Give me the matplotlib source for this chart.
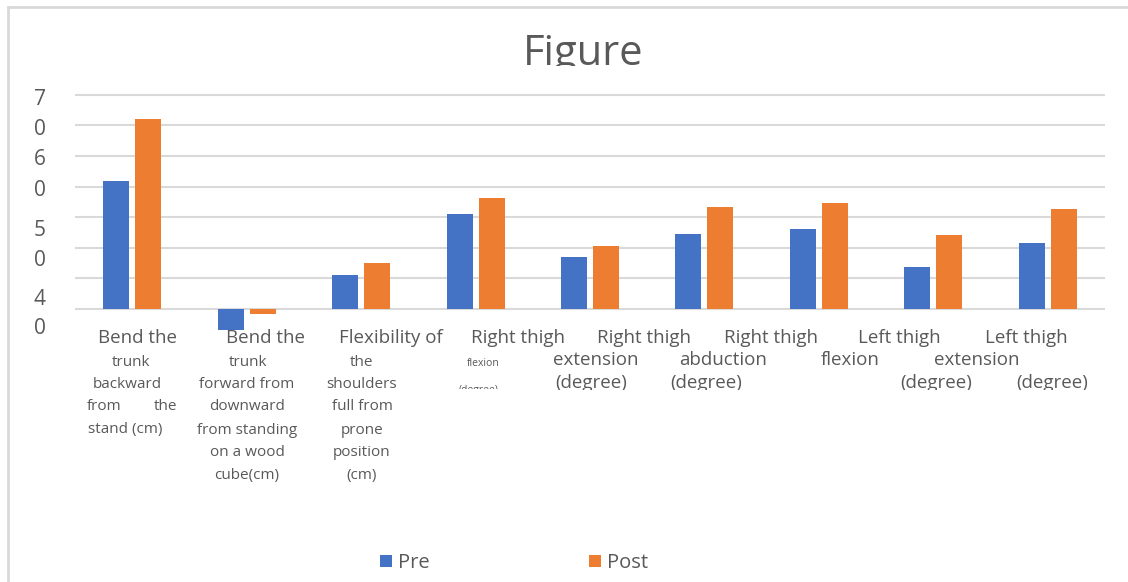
import matplotlib
matplotlib.use("Agg")
import matplotlib.pyplot as plt
import numpy as np
from matplotlib.lines import Line2D
from matplotlib.transforms import Bbox, TransformedBbox

categories = [
    "Bend the trunk backward from the stand (cm)",
    "Bend the trunk forward from downward from standing on a wood cube(cm)",
    "Flexibility of the shoulders full from prone position (cm)",
    "Right thigh flexion (degree)",
    "Right thigh extension (degree)",
    "Right thigh abduction (degree)",
    "Left thigh flexion",
    "Left thigh extension (degree)",
    "Left thigh (degree)",
]
pre = [41.8, -6.8, 11.1, 31.0, 17.0, 24.5, 26.1, 13.7, 21.6]
post = [62.1, -1.5, 15.0, 36.3, 20.6, 33.3, 34.6, 24.2, 32.7]

ytick_values = [69.3, 59.5, 49.7, 39.5, 26.5, 16.7, 3.9, -5.6]
ytick_labels = ["7", "0", "6", "0", "5", "0", "4", "0"]
grid_values = [0, 10, 20, 30, 40, 50, 60, 70]

BLUE = "#4472c4"
ORANGE = "#ed7d31"
TXT = "#595959"
GRID = "#d9d9d9"

plt.rcParams["font.family"] = ["Open Sans", "DejaVu Sans"]

W, H = 1128, 582
fig = plt.figure(figsize=(W / 100, H / 100), dpi=100)


def fy(py):
    return 1 - py / H


def fx(px):
    return px / W


ax = fig.add_axes([fx(75), fy(332), fx(1105) - fx(75), fy(90) - fy(332)])
x = np.arange(len(categories))
ax.bar(x - 0.14, pre, width=0.227, color=BLUE, label="Pre")
ax.bar(x + 0.14, post, width=0.227, color=ORANGE, label="Post")
for g in grid_values:
    ax.axhline(g, color=GRID, lw=1.5, zorder=0)
ax.set_xlim(-0.5, len(categories) - 0.5)
ax.set_ylim(-7.5, 71.6)
ax.set_xticks([])
ax.set_yticks(ytick_values)
ax.set_yticklabels(ytick_labels, fontsize=15, color=TXT)
ax.tick_params(axis="y", length=0, pad=21)
for s in ax.spines.values():
    s.set_visible(False)

# category labels as they wrap under the axis: (text, x px, y px, size, clip px)
label_pieces = [
    ("Bend the", 138, 338, 13.5, 347),
    ("Bend the", 265, 338, 13.5, 347),
    ("Flexibility of", 391, 338, 13.5, 347),
    ("Right thigh", 518, 338, 13.5, 347),
    ("Right thigh", 644, 338, 13.5, 347),
    ("Right thigh", 771, 338, 13.5, 347),
    ("Left thigh", 899, 338, 13.5, 347),
    ("Left thigh", 1026, 338, 13.5, 347),
    ("trunk", 131, 362, 11, 600),
    ("backward", 127, 385, 11, 600),
    ("from", 104, 407, 11, 600),
    ("the", 166, 407, 11, 600),
    ("stand (cm)", 125, 430, 11, 600),
    ("trunk", 248, 362, 11, 600),
    ("forward from", 247, 385, 11, 600),
    ("downward", 247, 407, 11, 600),
    ("from standing", 247, 430, 11, 600),
    ("on a wood", 247, 453, 11, 600),
    ("cube(cm)", 247, 476, 11, 600),
    ("the", 362, 362, 11, 600),
    ("shoulders", 362, 385, 11, 600),
    ("full from", 362, 407, 11, 600),
    ("prone", 362, 430, 11, 600),
    ("position", 362, 453, 11, 600),
    ("(cm)", 362, 476, 11, 600),
    ("flexion", 483, 364, 7.5, 600),
    ("(degree)", 479, 391, 7.5, 389),
    ("extension", 596, 360, 13.5, 600),
    ("(degree)", 591, 383, 13.5, 390),
    ("abduction", 723, 360, 13.5, 600),
    ("(degree)", 706, 383, 13.5, 390),
    ("flexion", 850, 360, 13.5, 600),
    ("extension", 977, 360, 13.5, 600),
    ("(degree)", 936, 383, 13.5, 390),
    ("(degree)", 1052, 383, 13.5, 390),
]
for text, px, py, size, clip in label_pieces:
    t = fig.text(fx(px), fy(py), text, ha="center", va="center",
                 fontsize=size, color=TXT)
    t.set_clip_box(TransformedBbox(Bbox.from_extents(0, fy(clip), 1, 1),
                                   fig.transFigure))
    t.set_clip_on(True)

title = fig.text(fx(583), fy(65), "Figure", ha="center", va="baseline",
                 fontsize=30, color=TXT)
title.set_clip_box(TransformedBbox(Bbox.from_extents(0, fy(66), 1, 1),
                                   fig.transFigure))
title.set_clip_on(True)

fig.legend(loc="center", bbox_to_anchor=(fx(514), fy(563)), ncol=2,
           frameon=False, fontsize=14.5, labelcolor=TXT, handlelength=0.6,
           handleheight=0.6, handletextpad=0.3, columnspacing=7.9)

# chart frame
fig.add_artist(Line2D([fx(8), 1], [fy(7), fy(7)], color=GRID, lw=2))
fig.add_artist(Line2D([fx(8), fx(8)], [fy(7), 0], color=GRID, lw=2))

fig.savefig("out.png", dpi=100)
